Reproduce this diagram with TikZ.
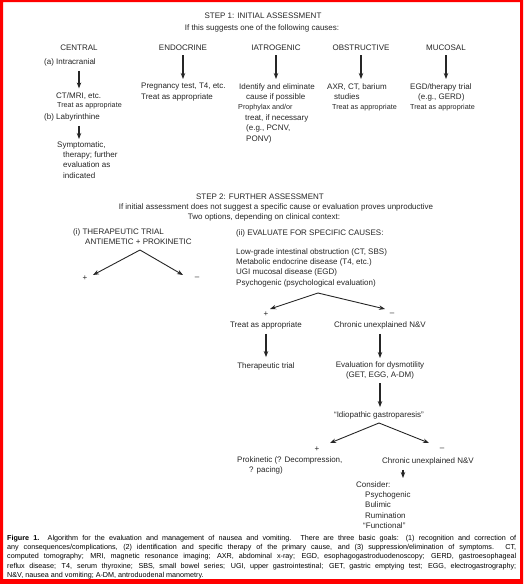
\documentclass[tikz,border=0pt]{standalone}
\usepackage{fontspec}
\setmainfont{Liberation Sans}
\usepackage{tikz}
\usetikzlibrary{arrows.meta}
\usetikzlibrary{calc}

\tikzset{
  txt/.style={inner sep=0pt, text=black!85, font=\fontsize{8}{10.4}\selectfont},
  sml/.style={txt, font=\fontsize{7.2}{10.4}\selectfont},
  arr/.style={line width=1.1pt, black!85, -{Stealth[length=6pt,width=4.5pt]}},
  spl/.style={line width=0.9pt, black!85, -{Stealth[length=6pt,width=4.5pt]}},
}
\newcommand{\sm}{\fontsize{7.2}{10.4}\selectfont}

\begin{document}
\begin{tikzpicture}[x=1pt,y=-1pt]
            \useasboundingbox (0,0) rectangle (523,584);
            \fill[white] (0,0) rectangle (523,584);
            \fill[red,even odd rule] (0,0) rectangle (523,584) (3,2) rectangle (520,579);

            % step 1
            \node[txt] (s1) at (263,16) {STEP 1: INITIAL ASSESSMENT};
            \node[txt] (s1t) at (262,28) {If this suggests one of the following causes:};

            \node[txt] (cen) at (79,48) {CENTRAL};
            \node[txt] (endo) at (183,48) {ENDOCRINE};
            \node[txt] (iat) at (276,48) {IATROGENIC};
            \node[txt] (obs) at (361,48) {OBSTRUCTIVE};
            \node[txt] (muc) at (446,48) {MUCOSAL};

            \node[txt,anchor=west] (intra) at (44,62) {(a) Intracranial};
            \node[txt,anchor=west] (ct) at (56,96) {CT/MRI, etc.};
            \node[sml,anchor=west] (ctt) at (57,106) {Treat as appropriate};
            \node[txt,anchor=west] (laby) at (44,117) {(b) Labyrinthine};
            \node[txt,anchor=north west,align=left] (symp) at (63,141) {\hspace*{-6pt}Symptomatic,\\therapy; further\\evaluation as\\indicated};
            \draw[arr,shorten <=5pt,shorten >=4pt] (intra.south -| cen) -- (ct.north -| cen);
            \draw[arr,shorten <=5pt,shorten >=2pt] (laby.south -| cen) -- (symp.north -| cen);

            \node[txt,anchor=north west,align=left] (endo1) at (141,83) {Pregnancy test, T4, etc.\\Treat as appropriate};
            \node[txt,anchor=north west,align=left] (iat1) at (238,83) {\hspace*{1pt}Identify and eliminate\\\hspace*{8pt}cause if possible\\{\sm Prophylax and/or}\\\hspace*{7pt}treat, if necessary\\\hspace*{8pt}(e.g., PCNV,\\\hspace*{8pt}PONV)};
            \node[txt,anchor=north west,align=left] (obs1) at (327,83) {AXR, CT, barium\\\hspace*{7pt}studies\\\hspace*{5pt}{\sm Treat as appropriate}};
            \node[txt,anchor=north west,align=left] (muc1) at (410,83) {EGD/therapy trial\\\hspace*{8pt}(e.g., GERD)\\{\sm Treat as appropriate}};
            \foreach \h/\b in {endo/endo1,iat/iat1,obs/obs1,muc/muc1}
              \draw[arr,shorten <=4pt,shorten >=4pt] (\h.south) -- (\h.south |- \b.north);

            % step 2
            \node[txt] (s2) at (260,197) {STEP 2: FURTHER ASSESSMENT};
            \node[txt] (s2a) at (276,207) {If initial assessment does not suggest a specific cause or evaluation proves unproductive};
            \node[txt] (s2b) at (264,217) {Two options, depending on clinical context:};

            \node[txt,anchor=north west,align=left] (tt) at (73,228) {(i) THERAPEUTIC TRIAL\\\hspace*{12pt}ANTIEMETIC + PROKINETIC};
            \coordinate (ta) at (140,250);
            \coordinate (tl) at (93,275);
            \coordinate (tr) at (183,275);
            \node[txt] (tp) at (85,278) {+};
            \node[txt] (tm) at (197,278) {--};
            \draw[spl] (ta) -- (tl);
            \draw[spl] (ta) -- (tr);

            \node[txt,anchor=west] (ev) at (236,233) {(ii) EVALUATE FOR SPECIFIC CAUSES:};
            \node[txt,anchor=north west,align=left] (evl) at (236,248) {Low-grade intestinal obstruction (CT, SBS)\\Metabolic endocrine disease (T4, etc.)\\UGI mucosal disease (EGD)\\Psychogenic (psychological evaluation)};
            \coordinate (ea) at (318,293);
            \coordinate (el) at (270,309);
            \coordinate (er) at (385,309);
            \node[txt] (ep) at (266,314) {+};
            \node[txt] (em) at (392,314) {--};
            \draw[spl] (ea) -- (el);
            \draw[spl] (ea) -- (er);

            \node[txt] (tr1) at (266,325) {Treat as appropriate};
            \node[txt] (ch1) at (380,325) {Chronic unexplained N\&V};
            \node[txt] (trial) at (266,366) {Therapeutic trial};
            \node[txt,anchor=north,align=center] (dys) at (380,361) {Evaluation for dysmotility\\(GET, EGG, A-DM)};
            \node[txt] (idio) at (379,415) {``Idiopathic gastroparesis''};
            \draw[arr,shorten <=5pt,shorten >=5pt] (tr1) -- (trial);
            \draw[arr,shorten <=5pt,shorten >=3pt] (ch1) -- (ch1 |- dys.north);
            \draw[arr,shorten <=4pt,shorten >=4pt] (dys.south -| ch1) -- (idio.north -| ch1);

            \coordinate (ia) at (379,423);
            \coordinate (il) at (330,443);
            \coordinate (ir) at (429,443);
            \node[txt] (ip) at (317,449) {+};
            \node[txt] (im) at (442,449) {--};
            \draw[spl] (ia) -- (il);
            \draw[spl] (ia) -- (ir);

            \node[txt,anchor=north west,align=left] (prok) at (237,456) {Prokinetic (? Decompression,\\\hspace*{12pt}? pacing)};
            \node[txt] (ch2) at (428,461) {Chronic unexplained N\&V};
            \node[txt,anchor=north west,align=left] (cons) at (356,481) {Consider:\\\hspace*{9pt}Psychogenic\\\hspace*{9pt}Bulimic\\\hspace*{9pt}Rumination\\\hspace*{7pt}``Functional''};
            \draw[arr,shorten <=5pt,shorten >=3pt] (ch2.south -| 403,0) -- (cons.north -| 403,0);

            % caption
            \node[inner sep=0pt,anchor=north west,text width=509pt,align=justify,font=\fontsize{7.2}{9.2}\selectfont] (cap) at (7,535) {\textbf{Figure 1.}\ \ Algorithm for the evaluation and management of nausea and vomiting. There are three basic goals: (1) recognition and correction of\linebreak any consequences/complications, (2) identification and specific therapy of the primary cause, and (3) suppression/elimination of symptoms. CT,\linebreak computed tomography; MRI, magnetic resonance imaging; AXR, abdominal x-ray; EGD, esophagogastroduodenoscopy; GERD, gastroesophageal\linebreak reflux disease; T4, serum thyroxine; SBS, small bowel series; UGI, upper gastrointestinal; GET, gastric emptying test; EGG, electrogastrography;\linebreak N\&V, nausea and vomiting; A-DM, antroduodenal manometry.};
\end{tikzpicture}
\end{document}
